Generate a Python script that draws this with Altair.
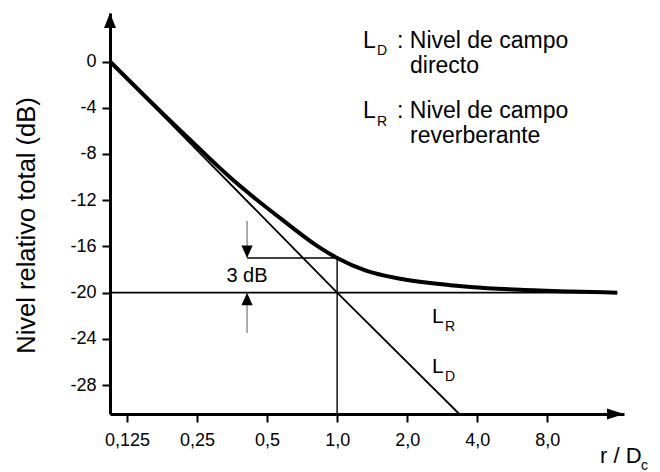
import altair as alt
import pandas as pd

# ---------------- data ----------------
x_tick_values = [0.125, 0.25, 0.5, 1.0, 2.0, 4.0, 8.0]
x_tick_labels = ["0,125", "0,25", "0,5", "1,0", "2,0", "4,0", "8,0"]
y_tick_values = [0, -4, -8, -12, -16, -20, -24, -28]
y_tick_labels = ["0", "-4", "-8", "-12", "-16", "-20", "-24", "-28"]

x_domain = [0.1056, 17.1]
y_domain = [-30.5, 4.2]

# total level (thick curve)
total_r = [0.1056, 0.18, 0.25, 0.35, 0.467, 0.586, 0.82, 1.0, 1.33, 1.866, 3.06, 3.73, 6.12, 10.05, 16.0]
total_db = [0.0, -4.6, -7.35, -10.1, -12.2, -13.75, -15.95, -17.0, -18.1, -18.8, -19.35, -19.5, -19.75, -19.9, -20.0]

# direct field L_D
direct_r = [0.1056, 1.0, 3.35]
direct_db = [0.0, -20.0, -30.5]

# reverberant field L_R
reverb_r = [0.1056, 16.0]
reverb_db = [-20.0, -20.0]

# 3 dB marker
marker_r = [0.41, 1.0]
marker_db = [-17.0, -17.0]
critical_r = [1.0, 1.0]
critical_db = [-17.0, -30.5]
shaft_top_db = [-13.8, -17.0]
shaft_bottom_db = [-20.0, -23.5]

legend_lines = [": Nivel de campo", "directo", ": Nivel de campo", "reverberante"]

FONT = "Liberation Sans"

# ---------------- scales / axes ----------------
xscale = alt.Scale(type="log", domain=x_domain, nice=False, zero=False)
yscale = alt.Scale(domain=y_domain, nice=False, zero=False)

x_label_expr = " : ".join(
    f"datum.value == {v} ? '{l}'" for v, l in zip(x_tick_values, x_tick_labels)
) + " : ''"
y_label_expr = " : ".join(
    f"datum.value == {v} ? '{l}'" for v, l in zip(y_tick_values, y_tick_labels)
) + " : ''"

x_axis = alt.Axis(values=x_tick_values, labelExpr=x_label_expr, title=None,
                  tickSize=8, labelPadding=9, labelFontSize=18)
y_axis = alt.Axis(values=y_tick_values, labelExpr=y_label_expr,
                  title="Nivel relativo total (dB)", titleFontSize=25.5,
                  titleFont=FONT, titleFontWeight="normal", titleColor="black",
                  titleAngle=-90, titleX=-84, titleY=212, titleAlign="center",
                  titleBaseline="middle",
                  tickSize=8, labelPadding=6, labelFontSize=18)


def X(field="r"):
    return alt.X(f"{field}:Q", scale=xscale, axis=x_axis)


def Y(field="db"):
    return alt.Y(f"{field}:Q", scale=yscale, axis=y_axis)


def line_layer(rs, dbs, width, color="black"):
    df = pd.DataFrame({"r": rs, "db": dbs})
    return alt.Chart(df).mark_line(color=color, strokeWidth=width, strokeCap="butt",
                                   interpolate="monotone" if len(rs) > 3 else "linear").encode(
        x=X(), y=Y())


total = line_layer(total_r, total_db, 4)
direct = line_layer(direct_r, direct_db, 1.8)
reverb = line_layer(reverb_r, reverb_db, 1.8)
marker = line_layer(marker_r, marker_db, 1.4)
critical = line_layer(critical_r, critical_db, 1.4)
shaft_top = line_layer([marker_r[0]] * 2, shaft_top_db, 1.2, "#777777")
shaft_bottom = line_layer([marker_r[0]] * 2, shaft_bottom_db, 1.2, "#777777")


def head(r, db, path, size):
    df = pd.DataFrame({"r": [r], "db": [db]})
    return alt.Chart(df).mark_point(shape=path, size=size, filled=True, fill="black",
                                    opacity=1, strokeWidth=0).encode(x=X(), y=Y())


head_down = head(marker_r[0], marker_db[0], "M0,0L-0.45,-1L0.45,-1Z", 625)
head_up = head(marker_r[0], reverb_db[0], "M0,0L-0.45,1L0.45,1Z", 625)
y_arrow = head(x_domain[0], y_domain[1], "M0,0L0.4,1L-0.4,1Z", 900)
x_arrow = head(x_domain[1], y_domain[0], "M0,0L-1,-0.32L-1,0.32Z", 1156)


def label(text, x, y, size, align="left"):
    return alt.Chart(pd.DataFrame({"t": [text]})).mark_text(
        font=FONT, fontSize=size, color="black", align=align, baseline="alphabetic"
    ).encode(x=alt.value(x), y=alt.value(y), text="t:N")


texts = [
    label("L", 253, 35, 23), label("D", 267, 42, 14), label(legend_lines[0], 287, 35, 23),
    label(legend_lines[1], 300, 60, 23),
    label("L", 253, 105, 23), label("R", 267, 113, 14), label(legend_lines[2], 287, 105, 23),
    label(legend_lines[3], 300, 130, 23),
    label("L", 322, 310, 21), label("R", 335, 318, 14),
    label("L", 322, 360, 21), label("D", 335, 368, 14),
    label("3 dB", 137, 269, 20, "center"),
    label("r / D", 490, 450, 22), label("c", 531, 457, 14),
]

chart = alt.layer(
    reverb, direct, critical, marker, shaft_top, shaft_bottom, total,
    head_down, head_up, y_arrow, x_arrow, *texts
).properties(
    width=514, height=401,
    autosize=alt.AutoSizeParams(type="none"),
    padding={"left": 110, "top": 13, "right": 36, "bottom": 58},
).configure_view(stroke=None).configure_axis(
    grid=False, domainColor="black", domainWidth=3, tickColor="black", tickWidth=2,
    labelFont=FONT, labelColor="black",
)

chart.save("out.html", embed_options={"renderer": "svg", "actions": False})
